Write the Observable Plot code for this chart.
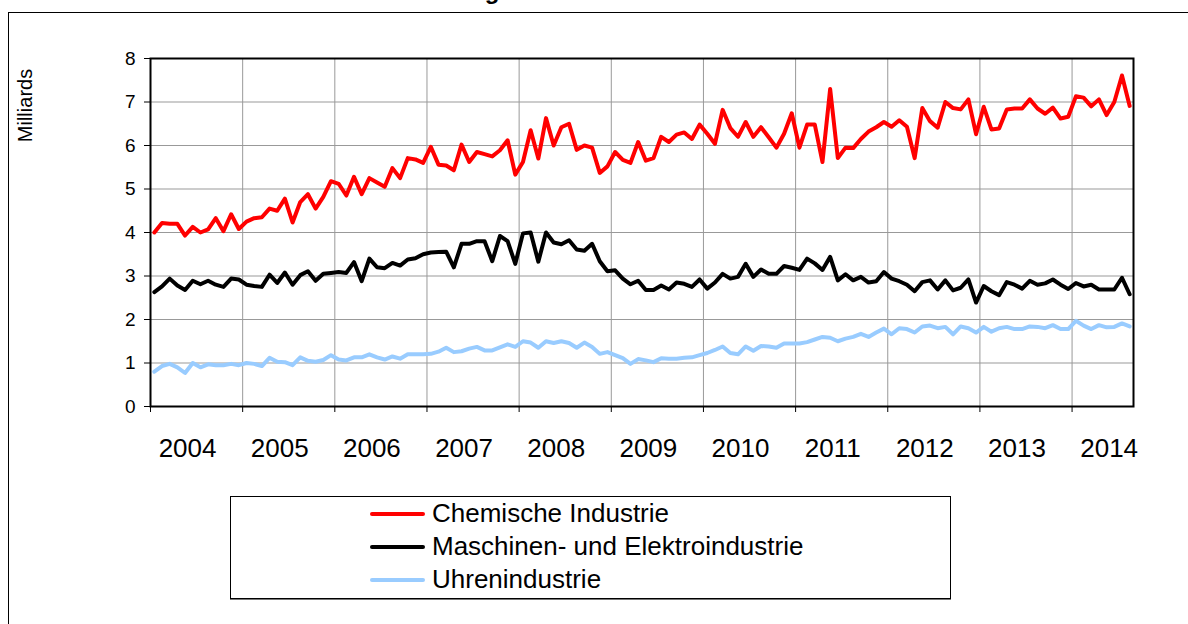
<!DOCTYPE html>
<html><head><meta charset="utf-8">
<script src="https://cdn.jsdelivr.net/npm/d3@7"></script>
<script src="https://cdn.jsdelivr.net/npm/@observablehq/plot@0.6"></script>
<style>
html,body{margin:0;padding:0;background:#fff;overflow:hidden;width:1188px;height:624px;font-family:Arial,"Liberation Sans",sans-serif;}
#page{position:relative;width:1188px;height:624px;overflow:hidden;}
#frame{position:absolute;left:8px;top:12px;width:1180px;height:612px;border-left:1px solid #000;border-top:1px solid #000;box-sizing:border-box;}
#title{position:absolute;top:-21px;left:358px;font-weight:bold;font-size:24px;line-height:24px;white-space:nowrap;}
#chart{position:absolute;left:0;top:0;}
#legend{position:absolute;left:230px;top:496px;width:721px;height:103px;border:1px solid #000;box-sizing:border-box;box-shadow:0 1px 0 #777;background:#fff;}
.item{position:absolute;left:0;height:33px;display:flex;align-items:center;font-size:26px;white-space:nowrap;}
.item svg{margin-left:139px;margin-right:7px;}
</style>
</head><body>
<div id="page">
<div id="frame"></div>
<div id="title">Entwicklung</div>
<div id="chart"></div>
<div id="legend"></div>
</div>
<script>
const years = ["2004","2005","2006","2007","2008","2009","2010","2011","2012","2013","2014"];
const yTicks = [0,1,2,3,4,5,6,7,8];
const seriesNames = ["Chemische Industrie","Maschinen- und Elektroindustrie","Uhrenindustrie"];
const seriesColors = ["#FF0000","#000000","#99CCFF"];

// monthly values, Jan 2004 – Aug 2014 (Milliards)
const chemie = [
4.0,4.22,4.2,4.2,3.93,4.13,4.0,4.07,4.33,4.03,4.42,4.08,
4.25,4.33,4.35,4.55,4.5,4.78,4.23,4.7,4.88,4.55,4.82,5.18,
5.12,4.85,5.28,4.88,5.25,5.15,5.05,5.48,5.25,5.71,5.68,5.6,
5.97,5.56,5.54,5.43,6.02,5.62,5.85,5.8,5.75,5.89,6.12,5.33,
5.62,6.35,5.7,6.63,6.0,6.42,6.5,5.9,6.0,5.95,5.37,5.52,
5.85,5.67,5.6,6.08,5.65,5.71,6.2,6.08,6.25,6.3,6.15,6.48,
6.27,6.04,6.82,6.4,6.2,6.54,6.2,6.42,6.19,5.95,6.27,6.74,
5.95,6.48,6.48,5.62,7.3,5.71,5.95,5.94,6.15,6.32,6.42,6.54,
6.43,6.58,6.43,5.71,6.86,6.56,6.41,7.0,6.86,6.83,7.06,6.26,
6.89,6.37,6.39,6.83,6.85,6.85,7.06,6.85,6.73,6.87,6.62,6.66,
7.13,7.1,6.9,7.06,6.7,7.0,7.61,6.91];
const maschinen = [
2.63,2.76,2.94,2.78,2.68,2.89,2.81,2.89,2.8,2.75,2.94,2.92,
2.8,2.77,2.75,3.03,2.84,3.08,2.8,3.02,3.11,2.89,3.05,3.07,
3.09,3.07,3.32,2.88,3.4,3.2,3.18,3.3,3.24,3.38,3.41,3.5,
3.54,3.55,3.56,3.2,3.74,3.74,3.8,3.8,3.34,3.92,3.8,3.28,
3.98,4.0,3.33,4.0,3.77,3.73,3.82,3.61,3.58,3.74,3.34,3.11,
3.13,2.94,2.81,2.89,2.68,2.68,2.78,2.69,2.85,2.82,2.75,2.92,
2.71,2.85,3.05,2.94,2.98,3.28,2.98,3.15,3.05,3.05,3.23,3.19,
3.14,3.4,3.29,3.14,3.44,2.9,3.04,2.9,2.98,2.85,2.88,3.09,
2.94,2.88,2.8,2.65,2.86,2.9,2.69,2.9,2.67,2.73,2.92,2.39,
2.77,2.65,2.56,2.86,2.8,2.71,2.89,2.8,2.83,2.92,2.8,2.7,
2.84,2.76,2.8,2.69,2.69,2.69,2.96,2.58];
const uhren = [
0.8,0.93,0.98,0.9,0.77,1.0,0.9,0.97,0.95,0.95,0.98,0.95,
1.0,0.98,0.93,1.12,1.03,1.02,0.95,1.13,1.05,1.03,1.07,1.18,
1.08,1.06,1.13,1.13,1.2,1.13,1.08,1.15,1.1,1.2,1.2,1.2,
1.21,1.26,1.35,1.25,1.27,1.33,1.37,1.29,1.29,1.36,1.43,1.37,
1.5,1.47,1.35,1.5,1.46,1.5,1.46,1.35,1.47,1.37,1.21,1.25,
1.18,1.11,0.98,1.09,1.06,1.02,1.11,1.1,1.1,1.12,1.13,1.18,
1.23,1.3,1.38,1.23,1.2,1.38,1.28,1.39,1.38,1.35,1.45,1.45,
1.45,1.48,1.54,1.6,1.58,1.5,1.56,1.6,1.67,1.6,1.7,1.79,
1.66,1.8,1.78,1.7,1.84,1.86,1.8,1.83,1.66,1.84,1.8,1.7,
1.83,1.72,1.8,1.83,1.78,1.78,1.84,1.83,1.8,1.87,1.78,1.78,
1.97,1.86,1.78,1.87,1.82,1.83,1.91,1.84];

const rows = [];
[chemie, maschinen, uhren].forEach((arr, s) =>
  arr.forEach((v, i) => rows.push({series: seriesNames[s], i: i + 0.5, v})));
const nMonths = chemie.length;
const yearStarts = years.map((_, k) => k * 12);
const labelPos = years.map((_, k) => k * 12 + 6);

const chart = Plot.plot({
  width: 1188, height: 480,
  marginLeft: 150, marginRight: 55, marginTop: 58, marginBottom: 74,
  style: {fontFamily: "Arial, 'Liberation Sans', sans-serif", background: "transparent", color: "#000", overflow: "visible"},
  x: {domain: [0, nMonths], axis: null},
  y: {domain: [0, 8], axis: null},
  color: {domain: seriesNames, range: seriesColors},
  marks: [
    Plot.gridY(yTicks, {stroke: "#999", strokeOpacity: 1, strokeWidth: 1}),
    Plot.gridX(yearStarts, {stroke: "#999", strokeOpacity: 1, strokeWidth: 1}),
    Plot.line(rows, {x: "i", y: "v", z: "series", stroke: "series", strokeWidth: 4, strokeLinejoin: "round", strokeLinecap: "round"}),
    Plot.frame({stroke: "#000", strokeWidth: 2}),
    Plot.axisY(yTicks, {tickSize: 6, tickPadding: 9, fontSize: 19, label: null}),
    Plot.axisX(yearStarts, {tickSize: 6, tickFormat: () => "", label: null}),
    Plot.axisX(labelPos, {tickSize: 0, tickPadding: 32, fontSize: 26, dx: -9, tickFormat: d => years[(d - 6) / 12], label: null}),
    Plot.text(["Milliards"], {text: d => d, frameAnchor: "top-left", dx: -125, dy: 47, rotate: -90, fontSize: 20, textAnchor: "middle", lineAnchor: "middle"})
  ]
});
document.getElementById("chart").appendChild(chart);

const legend = document.getElementById("legend");
seriesNames.forEach((name, k) => {
  const div = document.createElement("div");
  div.className = "item";
  div.style.top = (k * 33) + "px";
  div.innerHTML = `<svg width="55" height="8"><line x1="2" y1="4" x2="53" y2="4" stroke="${seriesColors[k]}" stroke-width="4" stroke-linecap="round"/></svg><span>${name}</span>`;
  legend.appendChild(div);
});
</script>
</body></html>
